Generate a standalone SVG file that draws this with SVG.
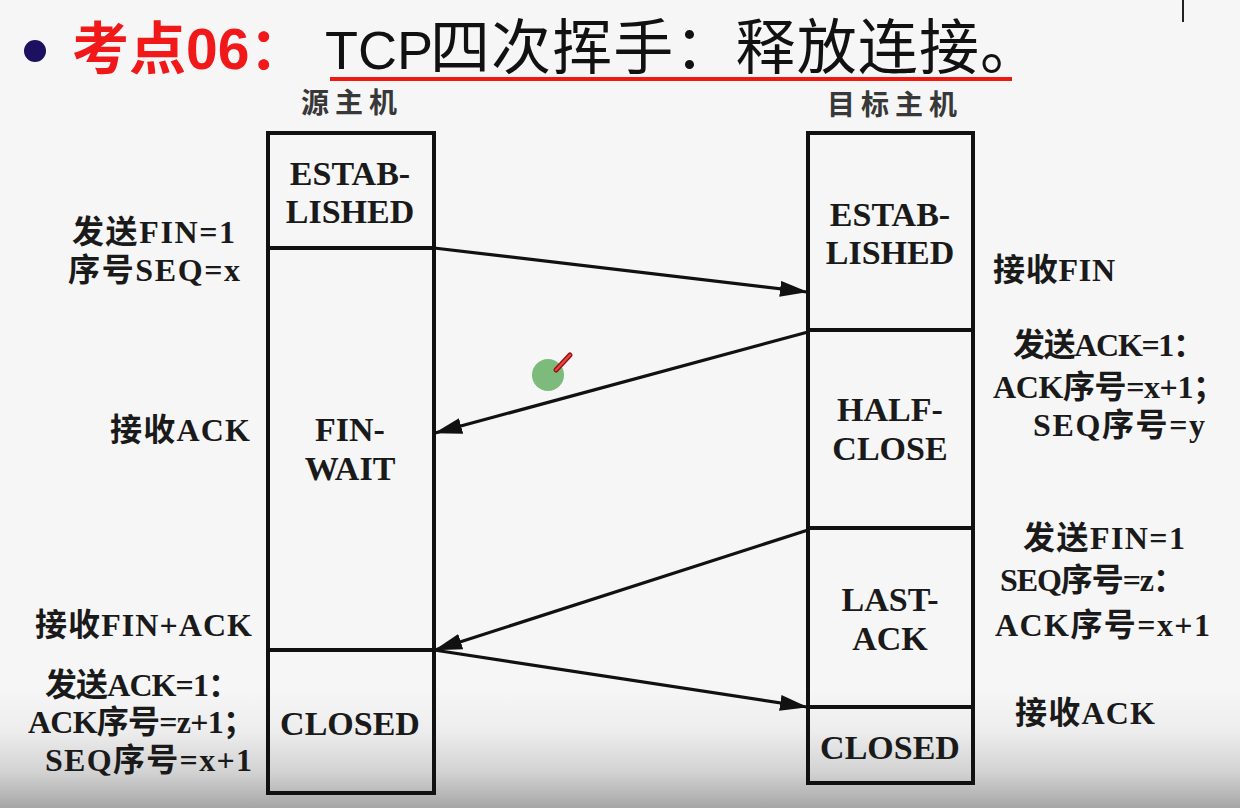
<svg xmlns="http://www.w3.org/2000/svg" width="1240" height="808" viewBox="0 0 1240 808">
  <defs>
    <linearGradient id="shade" x1="0" y1="0" x2="0" y2="1">
      <stop offset="0" stop-color="#f6f6f6"/>
      <stop offset="0.35" stop-color="#ededed"/>
      <stop offset="0.7" stop-color="#d2d2d2"/>
      <stop offset="1" stop-color="#a6a6a6"/>
    </linearGradient>
    <marker id="arrow" viewBox="0 0 28 16" refX="27" refY="8" markerWidth="28" markerHeight="16" markerUnits="userSpaceOnUse" orient="auto">
      <path d="M0,0 L28,8 L0,16 Z" fill="#111"/>
    </marker>
    <style>
      .box { fill: none; stroke: #111; stroke-width: 4; }
      .div { stroke: #111; stroke-width: 4; }
      .state { font-family: "Liberation Serif", "Noto Sans CJK SC", serif; font-size: 34px; font-weight: bold; fill: #1a1a1a; text-anchor: middle; }
      .lbl { font-family: "Liberation Serif", "Noto Sans CJK SC", serif; font-size: 32px; font-weight: bold; fill: #1a1a1a; }
      .host { font-family: "Liberation Serif", "Noto Sans CJK SC", serif; font-size: 28px; font-weight: bold; fill: #383838; text-anchor: middle; letter-spacing: 6px; }
      .msg { stroke: #111; stroke-width: 3.2; fill: none; marker-end: url(#arrow); }
      .title { font-family: "Liberation Sans", "Noto Sans CJK SC", sans-serif; }
    </style>
  </defs>

  <!-- page background with darkened bottom edge -->
  <rect x="0" y="0" width="1240" height="808" fill="#f6f6f6"/>
  <rect x="0" y="690" width="1240" height="118" fill="url(#shade)"/>

  <!-- heading -->
  <g id="title">
    <circle cx="35" cy="51" r="11" fill="#1c1060"/>
    <text class="title" x="72" y="69" fill="#f01818" font-weight="bold" font-size="57">考点06：</text>
    <text class="title" y="69" fill="#111"><tspan x="325" font-size="54">TCP</tspan><tspan x="430" font-size="60" textLength="610">四次挥手：释放连接。</tspan></text>
    <line x1="330" y1="79" x2="1012" y2="79" stroke="#ee1a10" stroke-width="4"/>
  </g>

  <!-- text cursor mark -->
  <line x1="1183" y1="0" x2="1183" y2="22" stroke="#222" stroke-width="2"/>

  <!-- source host timeline -->
  <g id="source-host">
    <text class="host" x="352" y="113">源主机</text>
    <rect class="box" x="268" y="133" width="166" height="660"/>
    <line class="div" x1="268" y1="248" x2="434" y2="248"/>
    <line class="div" x1="268" y1="650" x2="434" y2="650" stroke-width="6"/>
    <text class="state" x="350" y="185">ESTAB-</text>
    <text class="state" x="350" y="223">LISHED</text>
    <text class="state" x="350" y="441">FIN-</text>
    <text class="state" x="350" y="480">WAIT</text>
    <text class="state" x="350" y="735">CLOSED</text>
  </g>

  <!-- destination host timeline -->
  <g id="dest-host">
    <text class="host" x="895" y="115">目标主机</text>
    <rect class="box" x="808" y="133" width="165" height="650"/>
    <line class="div" x1="808" y1="330" x2="973" y2="330"/>
    <line class="div" x1="808" y1="528" x2="973" y2="528"/>
    <line class="div" x1="808" y1="707" x2="973" y2="707"/>
    <text class="state" x="890" y="226">ESTAB-</text>
    <text class="state" x="890" y="264">LISHED</text>
    <text class="state" x="890" y="421">HALF-</text>
    <text class="state" x="890" y="460">CLOSE</text>
    <text class="state" x="890" y="611">LAST-</text>
    <text class="state" x="890" y="650">ACK</text>
    <text class="state" x="890" y="759">CLOSED</text>
  </g>

  <!-- source side annotations -->
  <g id="source-labels">
    <text class="lbl" x="72" y="243" textLength="163">发送FIN=1</text>
    <text class="lbl" x="68" y="281" textLength="172">序号SEQ=x</text>
    <text class="lbl" x="110" y="441" textLength="140">接收ACK</text>
    <text class="lbl" x="35" y="636" textLength="217">接收FIN+ACK</text>
    <text class="lbl" x="45" y="696" textLength="195">发送ACK=1：</text>
    <text class="lbl" x="28" y="733" textLength="227">ACK序号=z+1；</text>
    <text class="lbl" x="45" y="771" textLength="207">SEQ序号=x+1</text>
  </g>

  <!-- destination side annotations -->
  <g id="dest-labels">
    <text class="lbl" x="993" y="281" textLength="122">接收FIN</text>
    <text class="lbl" x="1013" y="356" textLength="192">发送ACK=1：</text>
    <text class="lbl" x="993" y="398" textLength="232">ACK序号=x+1；</text>
    <text class="lbl" x="1033" y="436" textLength="172">SEQ序号=y</text>
    <text class="lbl" x="1023" y="549" textLength="162">发送FIN=1</text>
    <text class="lbl" x="1000" y="591" textLength="185">SEQ序号=z：</text>
    <text class="lbl" x="995" y="636" textLength="215">ACK序号=x+1</text>
    <text class="lbl" x="1015" y="724" textLength="140">接收ACK</text>
  </g>

  <!-- segments exchanged -->
  <g id="connectors">
    <line class="msg" x1="434" y1="248" x2="807" y2="292"/>
    <line class="msg" x1="808" y1="332" x2="435" y2="433"/>
    <line class="msg" x1="808" y1="530" x2="435" y2="650"/>
    <line class="msg" x1="434" y1="650" x2="807" y2="707"/>
  </g>

  <!-- pointer marker -->
  <g id="pointer">
    <circle cx="548" cy="375" r="16" fill="#7cbb7c"/>
    <line x1="556" y1="370" x2="570" y2="355" stroke="#8a1010" stroke-width="5" stroke-linecap="round"/>
    <line x1="556" y1="370" x2="570" y2="355" stroke="#f04040" stroke-width="2.5" stroke-linecap="round"/>
  </g>
</svg>
